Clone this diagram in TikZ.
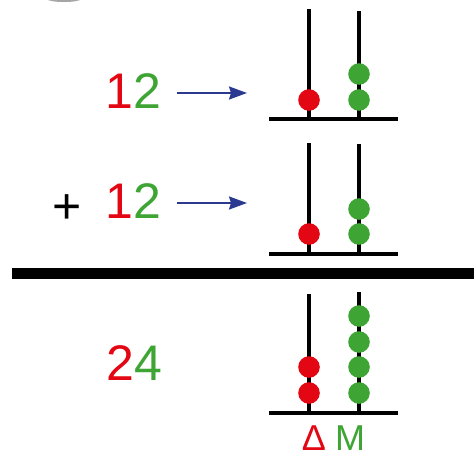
\documentclass[tikz,border=0pt]{standalone}
\usepackage{fontspec}
\setmainfont{Liberation Sans}
\usetikzlibrary{arrows.meta}
\definecolor{cred}{RGB}{227,6,19}
\definecolor{cgreen}{RGB}{62,165,53}
\definecolor{cnavy}{RGB}{43,57,144}
\begin{document}
\begin{tikzpicture}[x=1pt,y=-1pt,
  bead/.style={circle, minimum size=21.6pt, inner sep=0pt, draw=none},
  redbead/.style={bead, fill=cred},
  greenbead/.style={bead, fill=cgreen},
  rod/.style={line width=3.6pt, black},
  barline/.style={line width=4pt, black},
  num/.style={font=\fontsize{50}{60}\selectfont, inner sep=0pt, anchor=base west},
  lbl/.style={font=\fontsize{36}{42}\selectfont, inner sep=0pt, anchor=base},
  arr/.style={cnavy, line width=2pt, -{Stealth[length=18pt,width=13pt,inset=2pt]}}]
\useasboundingbox (0,0) rectangle (474,455);
% smudge at top
\fill[gray!70] (64,-1) ellipse [x radius=17, y radius=3];

% ---------- row 1 ----------
\node[num] (n1) at (105,108) {\textcolor{cred}{1}\textcolor{cgreen}{2}};
\coordinate (a1s) at (177,93);
\coordinate (a1e) at (247,93);
\draw[arr] (a1s) -- (a1e);
\coordinate (r1lt) at (309,9);   \coordinate (r1lb) at (309,119);
\coordinate (r1rt) at (359,11);  \coordinate (r1rb) at (359,119);
\coordinate (b1w) at (269,119);  \coordinate (b1e) at (398,119);
\draw[rod] (r1lt) -- (r1lb);
\draw[rod] (r1rt) -- (r1rb);
\draw[barline] (b1w) -- (b1e);
\node[redbead] (k1a) at (309,100) {};
\node[greenbead] (g1a) at (359,100) {};
\node[greenbead] (g1b) at (359,74) {};

% ---------- row 2 ----------
\node[font=\fontsize{50}{60}\selectfont, inner sep=0pt, anchor=base] (plus) at (67,223) {+};
\node[num] (n2) at (105,218) {\textcolor{cred}{1}\textcolor{cgreen}{2}};
\coordinate (a2s) at (177,203);
\coordinate (a2e) at (247,203);
\draw[arr] (a2s) -- (a2e);
\coordinate (r2lt) at (309,143);  \coordinate (r2lb) at (309,254);
\coordinate (r2rt) at (359,144);  \coordinate (r2rb) at (359,254);
\coordinate (b2w) at (269,254);   \coordinate (b2e) at (398,254);
\draw[rod] (r2lt) -- (r2lb);
\draw[rod] (r2rt) -- (r2rb);
\draw[barline] (b2w) -- (b2e);
\node[redbead] (k2a) at (309,234) {};
\node[greenbead] (g2a) at (359,234) {};
\node[greenbead] (g2b) at (359,209) {};

% ---------- thick bar ----------
\coordinate (sw) at (12,273.5);
\coordinate (se) at (474,273.5);
\draw[line width=11pt] (sw) -- (se);

% ---------- row 3 ----------
\node[num] (n3) at (106,380) {\textcolor{cred}{2}\textcolor{cgreen}{4}};
\coordinate (r3lt) at (309,294);  \coordinate (r3lb) at (309,413);
\coordinate (r3rt) at (359,292);  \coordinate (r3rb) at (359,413);
\coordinate (b3w) at (269,413);   \coordinate (b3e) at (398,413);
\draw[rod] (r3lt) -- (r3lb);
\draw[rod] (r3rt) -- (r3rb);
\draw[barline] (b3w) -- (b3e);
\node[redbead] (k3a) at (309,393) {};
\node[redbead] (k3b) at (309,367) {};
\node[greenbead] (g3a) at (359,393) {};
\node[greenbead] (g3b) at (359,367) {};
\node[greenbead] (g3c) at (359,342) {};
\node[greenbead] (g3d) at (359,316) {};

% labels
\node[lbl, text=cred] (delta) at (314,450) {Δ};
\node[lbl, text=cgreen] (mlab) at (350,450) {M};
\end{tikzpicture}
\end{document}
